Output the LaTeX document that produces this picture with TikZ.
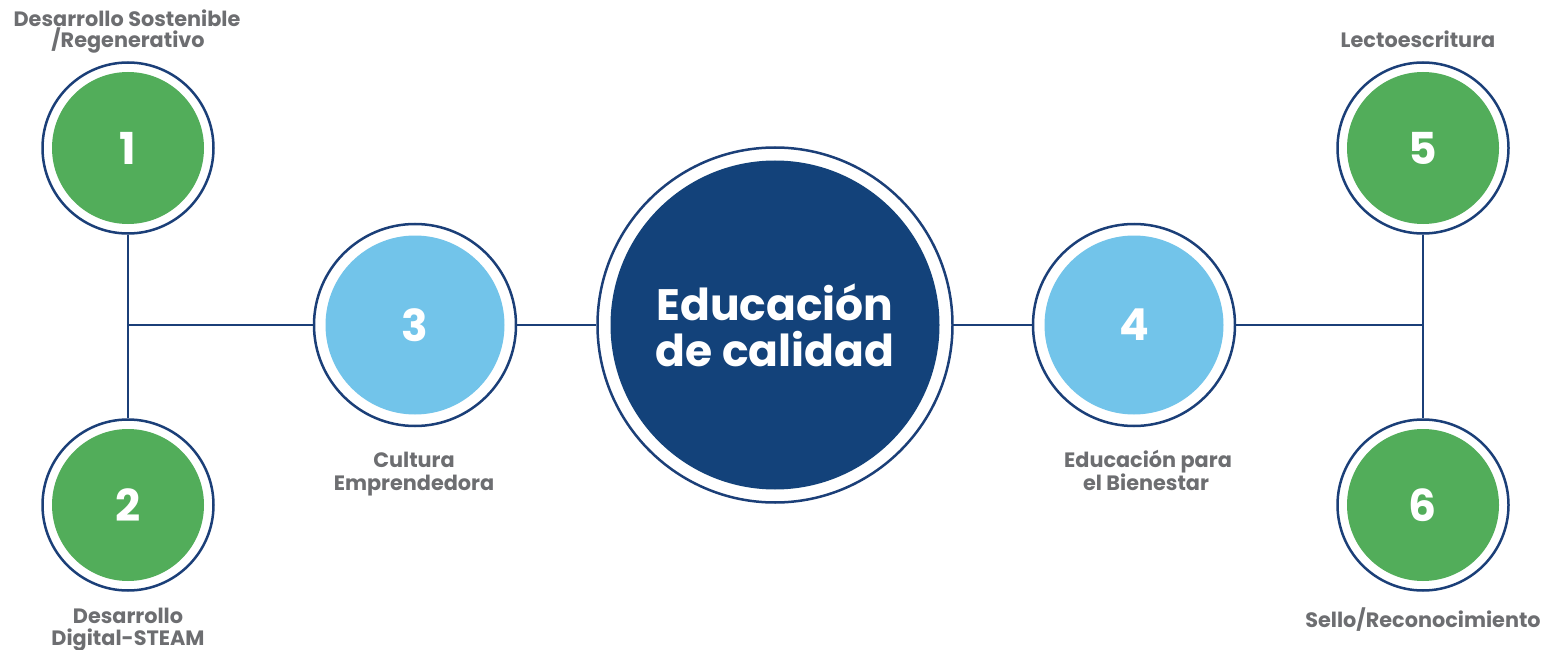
\documentclass[tikz,border=0pt]{standalone}
\usepackage{fontspec}
\setmainfont{Poppins}
\definecolor{navy}{HTML}{13427A}
\definecolor{ringc}{HTML}{1B3F78}
\definecolor{greenc}{HTML}{52AD5A}
\definecolor{bluec}{HTML}{72C4EA}
\definecolor{grayt}{HTML}{6D6E71}
\tikzset{
  ring/.style={circle, draw=ringc, line width=2.5pt, fill=white, inner sep=0pt, minimum size=#1},
  disc/.style={circle, inner sep=0pt, minimum size=#1, text=white, font=\bfseries\fontsize{44}{46}\selectfont, align=center},
  conn/.style={draw=ringc, line width=2.2pt},
  lbl/.style={text=grayt, font=\bfseries\fontsize{20.8}{22}\selectfont, anchor=base, inner sep=0pt}
}
\begin{document}
\begin{tikzpicture}[x=1pt,y=-1pt]
\useasboundingbox (0,0) rectangle (1551,650);
% outer rings
\node[ring=171] (n1) at (128,148) {};
\node[ring=171] (n2) at (128,505) {};
\node[ring=171] (n5) at (1423,148) {};
\node[ring=171] (n6) at (1423,505) {};
\node[ring=202] (n3) at (415,325) {};
\node[ring=202] (n4) at (1134,325) {};
\node[ring=355] (c) at (775,325) {};
% connectors
\coordinate (jl) at (128,325);
\coordinate (jr) at (1423,325);
\draw[conn] (n1.south) -- (n2.north);
\draw[conn] (n5.south) -- (n6.north);
\draw[conn] (jl) -- (n3.west);
\draw[conn] (n3.east) -- (c.west);
\draw[conn] (c.east) -- (n4.west);
\draw[conn] (n4.east) -- (jr);
% inner discs
\node[disc=152, fill=greenc] (d1) at (n1) {1};
\node[disc=152, fill=greenc] (d2) at (n2) {2};
\node[disc=152, fill=greenc] (d5) at (n5) {5};
\node[disc=152, fill=greenc] (d6) at (n6) {6};
\node[disc=179, fill=bluec] (d3) at (n3) {3};
\node[disc=179, fill=bluec] (d4) at (n4) {4};
\node[disc=329, fill=navy] (dc) at (c) {Educación\\de calidad};
% labels
\node[lbl] (t1a) at (127,27) {Desarrollo Sostenible};
\node[lbl] (t1b) at (128,48) {/Regenerativo};
\node[lbl] (t2a) at (128,623) {Desarrollo};
\node[lbl] (t2b) at (128,645) {Digital-STEAM};
\node[lbl] (t3a) at (414,467) {Cultura};
\node[lbl] (t3b) at (414,490) {Emprendedora};
\node[lbl] (t4a) at (1148,467) {Educación para};
\node[lbl] (t4b) at (1146,490) {el Bienestar};
\node[lbl] (t5) at (1418,48) {Lectoescritura};
\node[lbl] (t6) at (1423,627) {Sello/Reconocimiento};
\end{tikzpicture}
\end{document}
